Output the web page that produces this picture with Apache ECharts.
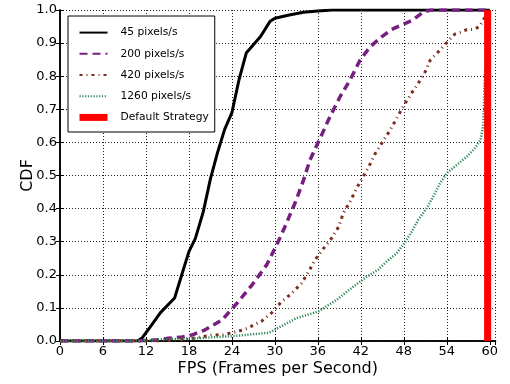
<!DOCTYPE html>
<html>
<head>
<meta charset="utf-8">
<script src="https://cdn.jsdelivr.net/npm/echarts@6/dist/echarts.min.js"></script>
<style>
  html, body { margin: 0; padding: 0; background: #fff; }
  #chart { width: 510px; height: 384px; }
</style>
</head>
<body>
<div id="chart"></div>
<script>
// CDF of frame rate for each scrolling speed: [fps, cumulative fraction]
const seriesNames = ['45 pixels/s', '200 pixels/s', '420 pixels/s', '1260 pixels/s', 'Default Strategy'];

const cdf45 = [
  [0, 0], [10.8, 0], [11.5, 0.01], [12.5, 0.04], [14, 0.085], [16, 0.13], [17, 0.2],
  [18, 0.27], [18.9, 0.31], [20, 0.39], [21, 0.49], [22, 0.57], [23, 0.64], [24, 0.69],
  [25, 0.79], [26, 0.87], [27, 0.895], [28, 0.92], [29.3, 0.965], [30, 0.975],
  [32, 0.985], [34, 0.993], [36, 0.997], [38, 1.0], [60, 1.0]
];

const cdf200 = [
  [0, 0], [11, 0], [14, 0.004], [15, 0.008], [16.75, 0.011], [18.4, 0.018], [20.2, 0.033],
  [22.6, 0.063], [24.7, 0.114], [26.8, 0.169], [28.85, 0.23], [30.25, 0.29], [31.4, 0.345],
  [32.8, 0.416], [34, 0.486], [34.9, 0.547], [36.3, 0.612], [37.7, 0.678], [39.1, 0.738],
  [40.5, 0.789], [41.9, 0.849], [43.3, 0.889], [44.9, 0.919], [46.3, 0.941], [47.7, 0.955],
  [49.1, 0.968], [50.7, 0.993], [51.7, 1.0], [60, 1.0]
];

const cdf420 = [
  [0, 0], [14, 0], [18, 0.006], [21.2, 0.018], [22.8, 0.019], [24.7, 0.028], [26.1, 0.038],
  [28.2, 0.061], [29.55, 0.085], [30.95, 0.119], [32.35, 0.144], [33.7, 0.174], [34.7, 0.209],
  [35.6, 0.245], [36.8, 0.28], [37.9, 0.31], [38.9, 0.345], [39.55, 0.386], [40.5, 0.421],
  [41.4, 0.461], [42.3, 0.496], [43.3, 0.535], [44.05, 0.568], [45.05, 0.602], [46.1, 0.637],
  [47.0, 0.673], [47.9, 0.708], [48.9, 0.743], [50.0, 0.778], [51.0, 0.814], [51.7, 0.849],
  [53.05, 0.879], [54.35, 0.91], [55.1, 0.927], [56.0, 0.933], [56.8, 0.941], [57.7, 0.941],
  [58.6, 0.95], [59.0, 0.967], [60, 1.0]
];

const cdf1260 = [
  [0, 0], [11, 0], [14, 0.005], [19.1, 0.008], [24.2, 0.015], [29.2, 0.025], [31.2, 0.048],
  [33.0, 0.069], [36.06, 0.089], [38.6, 0.124], [40.95, 0.164], [42.8, 0.194], [44.4, 0.215],
  [45.6, 0.24], [47.0, 0.265], [47.9, 0.29], [49.1, 0.33], [50.0, 0.366], [51.2, 0.401],
  [52.1, 0.436], [53.05, 0.476], [54.0, 0.507], [55.4, 0.532], [56.8, 0.557], [57.9, 0.582],
  [58.7, 0.607], [59.1, 0.65], [59.3, 0.8], [60, 1.0]
];

// default strategy: a fixed frame rate shown as a vertical bar
const defaultFps = 59.7;
const defaultStrategy = [[defaultFps, 0], [defaultFps, 1]];

const xTicks = [0, 6, 12, 18, 24, 30, 36, 42, 48, 54, 60];

const FONT = 'DejaVu Sans';
const chart = echarts.init(document.getElementById('chart'), null, { renderer: 'canvas' });

const gridLine = { show: true, lineStyle: { color: '#222', width: 1, type: [1, 2] } };
const spine = { show: true, lineStyle: { color: '#000', width: 1.5 } };
const tickIn = { show: true, inside: true, length: 4, lineStyle: { color: '#000', width: 1 } };

function lineSeries(name, data, color, width, type) {
  return {
    name, type: 'line', data, showSymbol: false, symbol: 'none', animation: false,
    lineStyle: { color, width, type }, itemStyle: { color }
  };
}

chart.setOption({
  animation: false,
  textStyle: { fontFamily: FONT },
  grid: { left: 60, right: 14.5, top: 10, bottom: 43, containLabel: false },
  legend: {
    orient: 'vertical', left: 68, top: 16,
    padding: [11, 6, 9, 8],
    itemWidth: 28, itemHeight: 14, itemGap: 10,
    backgroundColor: '#fff', borderColor: '#000', borderWidth: 1, borderRadius: 0,
    itemStyle: { opacity: 0 },
    textStyle: { fontFamily: FONT, fontSize: 10.7, color: '#000', padding: [0, 0, 0, 8] },
    data: [
      seriesNames[0], seriesNames[1], seriesNames[2], seriesNames[3],
      { name: seriesNames[4], lineStyle: { width: 7 } }
    ]
  },
  xAxis: [{
    type: 'value', min: 0, max: 60.8, interval: 6, position: 'bottom',
    name: 'FPS (Frames per Second)', nameLocation: 'middle', nameGap: 20, nameMoveOverlap: false,
    nameTextStyle: { fontFamily: FONT, fontSize: 16, color: '#000' },
    axisLine: spine, axisTick: tickIn, splitLine: gridLine,
    axisLabel: {
      fontFamily: FONT, fontSize: 13, color: '#000', margin: 4, showMaxLabel: false,
      formatter: v => (xTicks.includes(v) ? String(v) : '')
    }
  }, {
    type: 'value', min: 0, max: 60.8, interval: 6, position: 'top',
    axisLine: spine, axisTick: tickIn, splitLine: { show: false }, axisLabel: { show: false }
  }],
  yAxis: [{
    type: 'value', min: 0, max: 1, interval: 0.1, position: 'left',
    name: 'CDF', nameLocation: 'middle', nameGap: 24, nameMoveOverlap: false,
    nameTextStyle: { fontFamily: FONT, fontSize: 16, color: '#000' },
    axisLine: spine, axisTick: tickIn, splitLine: gridLine,
    axisLabel: { fontFamily: FONT, fontSize: 13, color: '#000', margin: 3, formatter: v => v.toFixed(1) }
  }, {
    type: 'value', min: 0, max: 1, interval: 0.1, position: 'right',
    axisLine: spine, axisTick: tickIn, splitLine: { show: false }, axisLabel: { show: false }
  }],
  series: [
    lineSeries(seriesNames[0], cdf45, '#000000', 3, 'solid'),
    lineSeries(seriesNames[1], cdf200, '#751f7f', 3.5, [8, 5]),
    lineSeries(seriesNames[2], cdf420, '#7b2d20', 3, [3, 4, 1, 4]),
    lineSeries(seriesNames[3], cdf1260, '#2e8b57', 2.5, [1.2, 1.6]),
    lineSeries(seriesNames[4], defaultStrategy, '#ff0000', 7, 'solid')
  ]
});
</script>
</body>
</html>
